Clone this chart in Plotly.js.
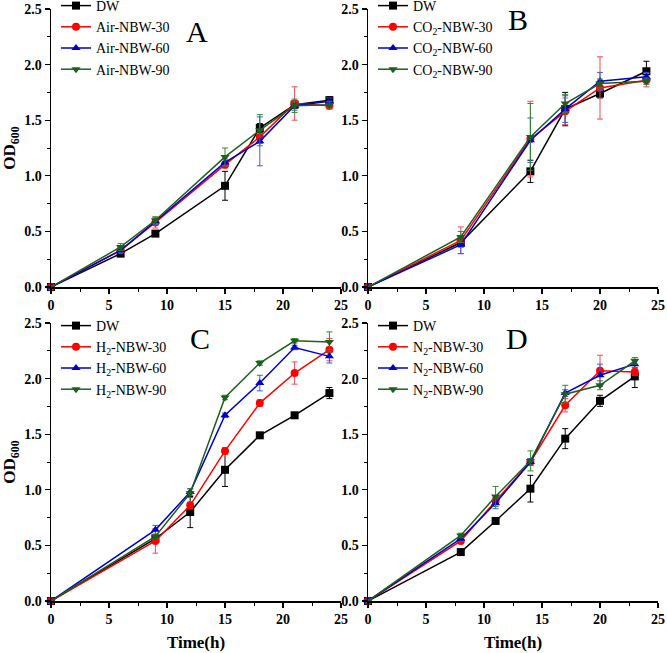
<!DOCTYPE html>
<html><head><meta charset="utf-8">
<script src="https://cdn.plot.ly/plotly-3.0.1.min.js"></script>
<style>html,body{margin:0;padding:0;background:#fff}</style>
</head><body><div id="chart" style="width:667px;height:653px"></div>
<script>
// Panel A (Air)
const timeA = [0, 6, 9, 15, 18, 21, 24];
const A_DW   = [0, 0.30, 0.48, 0.91, 1.43, 1.64, 1.68];
const A_30   = [0, 0.33, 0.58, 1.10, 1.35, 1.65, 1.63];
const A_60   = [0, 0.33, 0.59, 1.12, 1.31, 1.63, 1.67];
const A_90   = [0, 0.36, 0.60, 1.17, 1.41, 1.63, 1.64];
const A_DW_e = [0, 0.02, 0.02, 0.13, 0.04, 0.03, 0.03];
const A_30_e = [0, 0.02, 0.05, 0.03, 0.06, 0.15, 0.03];
const A_60_e = [0, 0.02, 0.03, 0.03, 0.22, 0.04, 0.03];
const A_90_e = [0, 0.03, 0.03, 0.08, 0.14, 0.06, 0.03];
// Panel B (CO2)
const timeB = [0, 8, 14, 17, 20, 24];
const B_DW   = [0, 0.40, 1.04, 1.60, 1.74, 1.94];
const B_30   = [0, 0.42, 1.33, 1.58, 1.79, 1.86];
const B_60   = [0, 0.38, 1.32, 1.60, 1.85, 1.89];
const B_90   = [0, 0.45, 1.35, 1.65, 1.83, 1.85];
const B_DW_e = [0, 0.04, 0.10, 0.15, 0.04, 0.09];
const B_30_e = [0, 0.12, 0.34, 0.12, 0.28, 0.06];
const B_60_e = [0, 0.08, 0.20, 0.12, 0.08, 0.04];
const B_90_e = [0, 0.05, 0.30, 0.08, 0.04, 0.03];
// Panel C (H2)
const timeC = [0, 9, 12, 15, 18, 21, 24];
const C_DW   = [0, 0.56, 0.80, 1.18, 1.49, 1.67, 1.87];
const C_30   = [0, 0.54, 0.86, 1.35, 1.78, 2.05, 2.26];
const C_60   = [0, 0.64, 0.98, 1.67, 1.96, 2.28, 2.20];
const C_90   = [0, 0.58, 0.97, 1.83, 2.14, 2.34, 2.33];
const C_DW_e = [0, 0.03, 0.14, 0.15, 0.02, 0.02, 0.05];
const C_30_e = [0, 0.11, 0.03, 0.03, 0.03, 0.10, 0.10];
const C_60_e = [0, 0.04, 0.03, 0.02, 0.07, 0.02, 0.06];
const C_90_e = [0, 0.02, 0.04, 0.02, 0.02, 0.02, 0.09];
// Panel D (N2)
const timeD = [0, 8, 11, 14, 17, 20, 23];
const D_DW   = [0, 0.44, 0.72, 1.01, 1.46, 1.80, 2.02];
const D_30   = [0, 0.54, 0.90, 1.25, 1.76, 2.07, 2.06];
const D_60   = [0, 0.56, 0.88, 1.25, 1.87, 2.03, 2.13];
const D_90   = [0, 0.59, 0.94, 1.26, 1.86, 1.94, 2.16];
const D_DW_e = [0, 0.02, 0.02, 0.12, 0.09, 0.05, 0.10];
const D_30_e = [0, 0.02, 0.03, 0.03, 0.06, 0.14, 0.03];
const D_60_e = [0, 0.02, 0.05, 0.03, 0.03, 0.10, 0.03];
const D_90_e = [0, 0.02, 0.09, 0.09, 0.08, 0.04, 0.03];

const namesA = ["DW", "Air-NBW-30", "Air-NBW-60", "Air-NBW-90"];
const namesB = ["DW", "CO<sub>2</sub>-NBW-30", "CO<sub>2</sub>-NBW-60", "CO<sub>2</sub>-NBW-90"];
const namesC = ["DW", "H<sub>2</sub>-NBW-30", "H<sub>2</sub>-NBW-60", "H<sub>2</sub>-NBW-90"];
const namesD = ["DW", "N<sub>2</sub>-NBW-30", "N<sub>2</sub>-NBW-60", "N<sub>2</sub>-NBW-90"];
const panelLabels = ["A", "B", "C", "D"];

const colors = ["#000000", "#ff0000", "#0000cc", "#1e5f1e"];
const errColors = ["#000000", "#f04a5a", "#3a5ae8", "#2e8a2e"];
const symbols = ["square", "circle", "triangle-up", "triangle-down"];

const panels = [
  {t: timeA, ys: [A_DW, A_30, A_60, A_90], es: [A_DW_e, A_30_e, A_60_e, A_90_e], names: namesA, xa: "x", ya: "y", lg: "legend"},
  {t: timeB, ys: [B_DW, B_30, B_60, B_90], es: [B_DW_e, B_30_e, B_60_e, B_90_e], names: namesB, xa: "x2", ya: "y2", lg: "legend2"},
  {t: timeC, ys: [C_DW, C_30, C_60, C_90], es: [C_DW_e, C_30_e, C_60_e, C_90_e], names: namesC, xa: "x3", ya: "y3", lg: "legend3"},
  {t: timeD, ys: [D_DW, D_30, D_60, D_90], es: [D_DW_e, D_30_e, D_60_e, D_90_e], names: namesD, xa: "x4", ya: "y4", lg: "legend4"}
];

const traces = [];
panels.forEach(p => {
  p.ys.forEach((y, i) => {
    traces.push({
      type: "scatter", mode: "lines+markers",
      x: p.t, y: y, name: p.names[i],
      xaxis: p.xa, yaxis: p.ya, legend: p.lg,
      cliponaxis: false,
      line: {color: colors[i], width: 1.5},
      marker: {symbol: symbols[i], size: 8, color: colors[i]},
      error_y: {type: "data", array: p.es[i], visible: true, color: errColors[i], thickness: 1, width: 3}
    });
  });
});

const serif = "Liberation Serif, Times New Roman, serif";
const xd = [[51/667, 341/667], [368/667, 658/667]];
const yd = [[1 - 287/653, 1 - 9/653], [1 - 601/653, 1 - 323/653]];

function xaxis(dom, anchor, title) {
  const a = {
    domain: dom, anchor: anchor, range: [0, 25], dtick: 5, tick0: 0,
    showgrid: false, zeroline: false, showline: true, linecolor: "#000", linewidth: 1.5,
    ticks: "outside", ticklen: 5, tickwidth: 1.2, tickcolor: "#000",
    minor: {dtick: 2.5, ticks: "outside", ticklen: 3, tickwidth: 1, tickcolor: "#000"},
    tickfont: {family: serif, size: 14, color: "#000", weight: "bold"},
    fixedrange: true
  };
  if (title) a.title = {text: title, font: {family: serif, size: 17, color: "#000", weight: "bold"}, standoff: 10};
  return a;
}
function yaxis(dom, anchor, title) {
  const a = {
    domain: dom, anchor: anchor, range: [0, 2.5], dtick: 0.5, tick0: 0, tickformat: ".1f",
    showgrid: false, zeroline: false, showline: true, linecolor: "#000", linewidth: 1.5,
    ticks: "outside", ticklen: 5, tickwidth: 1.2, tickcolor: "#000",
    minor: {dtick: 0.25, ticks: "outside", ticklen: 3, tickwidth: 1, tickcolor: "#000"},
    tickfont: {family: serif, size: 14, color: "#000", weight: "bold"},
    fixedrange: true
  };
  if (title) a.title = {text: title, font: {family: serif, size: 17, color: "#000", weight: "bold"}, standoff: 6};
  return a;
}
function legend(x, y) {
  return {x: x, y: y, xanchor: "left", yanchor: "top", bgcolor: "rgba(0,0,0,0)",
    font: {family: serif, size: 14, color: "#000"}, tracegroupgap: 0, itemwidth: 30};
}

const layout = {
  width: 667, height: 653,
  margin: {l: 0, r: 0, t: 0, b: 0, autoexpand: false},
  paper_bgcolor: "#fff", plot_bgcolor: "#fff",
  showlegend: true,
  xaxis: xaxis(xd[0], "y", null),
  yaxis: yaxis(yd[0], "x", "OD<sub>600</sub>"),
  xaxis2: xaxis(xd[1], "y2", null),
  yaxis2: yaxis(yd[0], "x2", null),
  xaxis3: xaxis(xd[0], "y3", "Time(h)"),
  yaxis3: yaxis(yd[1], "x3", "OD<sub>600</sub>"),
  xaxis4: xaxis(xd[1], "y4", "Time(h)"),
  yaxis4: yaxis(yd[1], "x4", null),
  legend: legend(56/667, 1 + 10/653),
  legend2: legend(373/667, 1 + 10/653),
  legend3: legend(56/667, 1 - 310/653),
  legend4: legend(373/667, 1 - 310/653),
  annotations: [
    {text: panelLabels[0], xref: "paper", yref: "paper", x: 197/667, y: 1 - 31/653, yanchor: "middle", xanchor: "center", showarrow: false, font: {family: serif, size: 30, color: "#000"}},
    {text: panelLabels[1], xref: "paper", yref: "paper", x: 518/667, y: 1 - 19/653, yanchor: "middle", xanchor: "center", showarrow: false, font: {family: serif, size: 30, color: "#000"}},
    {text: panelLabels[2], xref: "paper", yref: "paper", x: 200/667, y: 1 - 338/653, yanchor: "middle", xanchor: "center", showarrow: false, font: {family: serif, size: 30, color: "#000"}},
    {text: panelLabels[3], xref: "paper", yref: "paper", x: 517/667, y: 1 - 338/653, yanchor: "middle", xanchor: "center", showarrow: false, font: {family: serif, size: 30, color: "#000"}}
  ]
};

Plotly.newPlot("chart", traces, layout, {displayModeBar: false, staticPlot: true});
</script>
</body></html>
